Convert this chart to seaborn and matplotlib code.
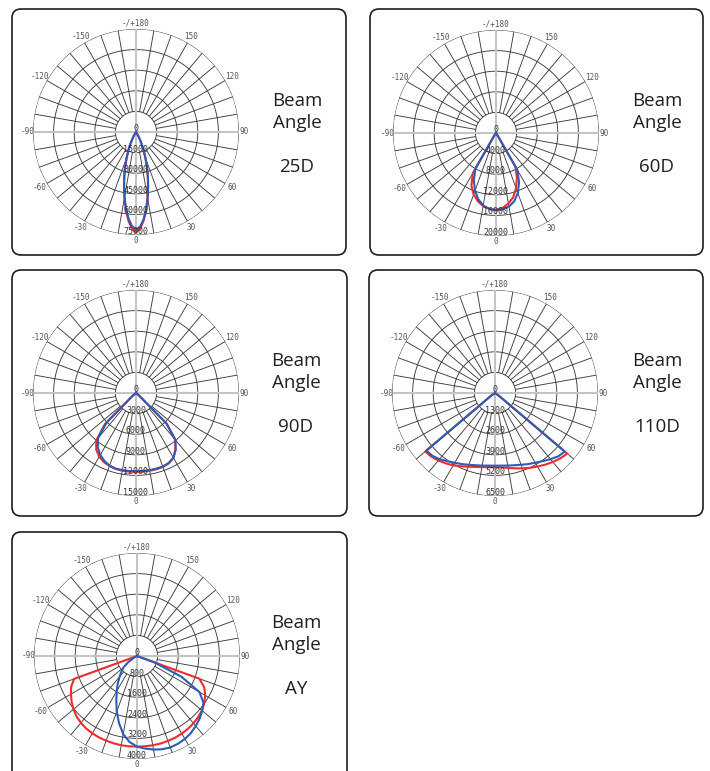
import numpy as np
import matplotlib.pyplot as plt
import seaborn as sns
from matplotlib.patches import FancyBboxPatch

sns.set_style("white")
plt.rcParams['font.family'] = ['Open Sans', 'DejaVu Sans']

# --- data (angle in degrees, 0 = straight down; intensity values) ---
ang_25d = [-40, -35, -30, -27.5, -25, -22.5, -20, -17.5, -15, -12.5, -10, -7.5, -5, -2.5,
           0, 2.5, 5, 7.5, 10, 12.5, 15, 17.5, 20, 22.5, 25, 27.5, 30, 35, 40]
red_25d = [0, 700, 3300, 5800, 9500, 14200, 19800, 26000, 33000, 40500, 48500, 57000, 64500, 70500,
           73000, 70500, 64500, 57000, 48500, 40500, 33000, 26000, 19800, 14200, 9500, 5800, 3300, 700, 0]
blue_25d = [0, 800, 3500, 6000, 9800, 14500, 20000, 26000, 33000, 40000, 48000, 56000, 63000, 68500,
            71000, 69000, 63800, 56800, 48800, 41000, 33500, 26500, 20500, 15000, 10000, 6200, 3600, 800, 0]

ang_60d = [-45, -40, -35, -30, -25, -20, -15, -10, -5, 0, 5, 10, 15, 20, 25, 30, 35, 40, 45]
red_60d = [0, 0, 500, 9000, 11300, 12700, 13700, 14400, 14800, 14900,
           14600, 13900, 12900, 11400, 9600, 7600, 300, 0, 0]
blue_60d = [0, 0, 400, 8000, 10200, 11900, 13300, 14300, 14800, 15000,
            14900, 14500, 13700, 12400, 10600, 8300, 400, 0, 0]

ang_90d = [-60, -55, -50, -45, -40, -35, -30, -25, -20, -15, -10, -5, 0,
           5, 10, 15, 20, 25, 30, 35, 40, 45, 50, 55, 60]
red_90d = [0, 0, 700, 6400, 9000, 10100, 10700, 11100, 11300, 11450, 11500, 11500, 11500,
           11500, 11500, 11500, 11450, 11300, 10900, 10000, 8900, 6300, 600, 0, 0]
blue_90d = [0, 0, 600, 6000, 8600, 9700, 10400, 10900, 11250, 11400, 11400, 11400, 11400,
            11400, 11400, 11400, 11400, 11250, 10900, 10100, 8900, 6300, 600, 0, 0]

ang_110d = [-65, -60, -55, -50, -45, -40, -35, -30, -25, -20, -15, -10, -5, 0,
            5, 10, 15, 20, 25, 30, 35, 40, 45, 50, 55, 60, 65]
red_110d = [0, 0, 300, 5750, 5680, 5560, 5420, 5270, 5100, 4950, 4830, 4750, 4700, 4690,
            4720, 4800, 4920, 5060, 5210, 5360, 5520, 5680, 5830, 5950, 300, 0, 0]
blue_110d = [0, 0, 300, 5650, 5600, 5450, 5250, 5080, 4950, 4820, 4720, 4650, 4600, 4590,
             4600, 4650, 4720, 4820, 4950, 5080, 5250, 5450, 5650, 5750, 300, 0, 0]

ang_ay = [-90, -85, -80, -75, -70, -65, -60, -55, -50, -45, -40, -35, -30, -25, -20, -15, -10, -5, 0,
          5, 10, 15, 20, 25, 30, 35, 40, 45, 50, 55, 60, 65, 70, 75, 80, 85, 90]
red_ay = [0, 0, 0, 0, 2600, 2820, 2960, 3100, 3220, 3320, 3390, 3440, 3470, 3490, 3500, 3510, 3520, 3520, 3520,
          3520, 3520, 3520, 3510, 3500, 3480, 3450, 3410, 3360, 3290, 3190, 3060, 2880, 2580, 0, 0, 0, 0]
blue_ay = [0, 0, 0, 0, 0, 0, 150, 420, 680, 860, 1050, 1300, 1580, 1900, 2300, 2700, 3080, 3350, 3520,
           3610, 3690, 3750, 3780, 3760, 3720, 3650, 3550, 3440, 3310, 3150, 2800, 1900, 700, 0, 0, 0, 0]

panel_names = ['25D', '60D', '90D', '110D', 'AY']
ring_steps = [15000, 4000, 3000, 1300, 800]
angle_labels = {180: '-/+180', 150: '150', 120: '120', 90: '90', 60: '60', 30: '30',
                0: '0', -30: '-30', -60: '-60', -90: '-90', -120: '-120', -150: '-150'}

panels = [
    (ang_25d, red_25d, blue_25d),
    (ang_60d, red_60d, blue_60d),
    (ang_90d, red_90d, blue_90d),
    (ang_110d, red_110d, blue_110d),
    (ang_ay, red_ay, blue_ay),
]

# layout in pixels (figure is 710 x 771)
W, H = 710, 771
boxes = [(12, 9, 346, 255), (370, 9, 703, 255), (12, 270, 347, 516),
         (369, 270, 703, 516), (12, 532, 347, 790)]
centers = [(136, 132), (496, 133), (136, 393), (495, 393), (137, 656)]
text_x = [297, 657, 296, 657, 296]
text_y = [(105.5, 127.5, 172.5), (105.5, 127.5, 172.5), (365.5, 387.5, 432.5),
          (365.5, 387.5, 432.5), (628, 650, 694)]
R = 103

RED = '#ef2b2b'
BLUE = '#2b5cb8'
GRID = '#3c3c3c'
AXLINE = '#c4c4c4'

fig = plt.figure(figsize=(W / 100, H / 100), dpi=100)

bg = fig.add_axes([0, 0, 1, 1])
bg.set_xlim(0, W)
bg.set_ylim(H, 0)
bg.axis('off')

for (x0, y0, x1, y1) in boxes:
    bg.add_patch(FancyBboxPatch((x0, y0), x1 - x0, y1 - y0,
                                boxstyle='round,pad=0,rounding_size=9',
                                fc='white', ec='#1e1e1e', lw=1.2))

for i, name in enumerate(panel_names):
    ty = text_y[i]
    for s, y in zip(['Beam', 'Angle', name], ty):
        bg.text(text_x[i], y, s, ha='center', va='baseline', fontsize=13.5, color='#202020')

full = np.linspace(0, 2 * np.pi, 361)

for i, (ang, red, blue) in enumerate(panels):
    cx, cy = centers[i]
    step = ring_steps[i]
    rmax = 5 * step
    ax = fig.add_axes([(cx - R) / W, 1 - (cy + R) / H, 2 * R / W, 2 * R / H],
                      projection='polar')
    ax.set_theta_zero_location('S')
    ax.set_theta_direction(1)
    ax.grid(False)
    ax.patch.set_alpha(0)
    ax.spines['polar'].set_visible(False)

    # rings
    for k in range(1, 6):
        ax.plot(full, np.full_like(full, k * step), color=GRID, lw=0.65, zorder=1)
    # spokes, starting at the first ring
    for t in range(0, 360, 10):
        if t % 90 == 0:
            continue
        ax.plot([np.deg2rad(t)] * 2, [step, rmax], color=GRID, lw=0.65, zorder=1)
    # main axes lines
    for t in (0, 90, 180, 270):
        ax.plot([np.deg2rad(t)] * 2, [0, rmax], color=AXLINE, lw=1.5, zorder=1.5)

    # curves
    th = np.deg2rad(ang)
    sns.lineplot(x=th, y=red, ax=ax, color=RED, lw=1.5, sort=False,
                 estimator=None, legend=False, zorder=3)
    sns.lineplot(x=th, y=blue, ax=ax, color=BLUE, lw=1.5, sort=False,
                 estimator=None, legend=False, zorder=4)

    # radial labels along the 0 direction
    for k in range(0, 6):
        ax.annotate(str(k * step), xy=(0, k * step), xytext=(0, 2.5),
                    textcoords='offset points', ha='center', va='center',
                    fontsize=6, color='#333333', family='DejaVu Sans Mono', zorder=5)
    # angle labels
    for a, lab in angle_labels.items():
        rr = 5.27 if a % 90 == 0 else 5.38
        ax.text(np.deg2rad(a), rr * step, lab, ha='center', va='center',
                fontsize=5.5, color='#555555', family='DejaVu Sans Mono', clip_on=False)

    ax.set_xticks([])
    ax.set_yticks([])
    ax.set_xlabel('')
    ax.set_ylabel('')
    ax.set_ylim(0, rmax)

fig.savefig('out.png', dpi=100)
